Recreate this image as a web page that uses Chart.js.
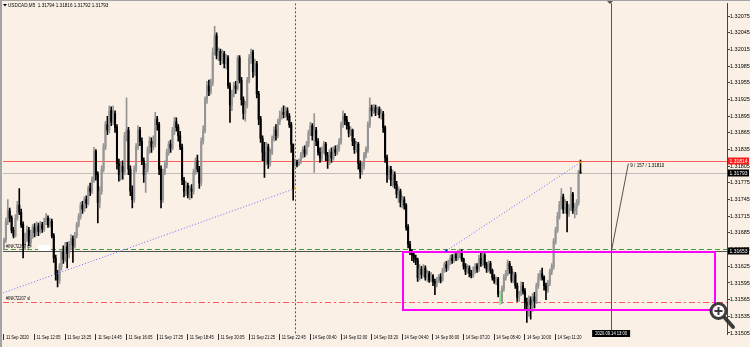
<!DOCTYPE html>
<html>
<head>
<meta charset="utf-8">
<script src="https://cdn.jsdelivr.net/npm/chart.js@4.4.0/dist/chart.umd.min.js"></script>
<style>
  html, body { margin: 0; padding: 0; background: #faf0e6; }
  canvas { display: block; }
</style>
</head>
<body>
<canvas id="chart" width="750" height="347"></canvas>
<script>
// USDCAD M5 candles, prices kept as points above 1.31000 (1 point = 0.00001)
const BASE = 1.31;
const openPts = [
  660,672,705,725,712,690,680,712,735,722, 700,662,675,690,668,680,695,685,698,688,
  700,692,705,712,700,706,680,640,610,600, 625,650,638,660,648,665,675,662,680,700,
  715,735,728,745,738,765,760,780,832,790, 740,760,800,840,880,870,905,885,900,875,
  810,790,805,795,860,870,800,760,745,800, 840,870,850,815,790,800,835,850,840,845,
  890,880,800,745,795,808,830,845,838,870, 885,875,860,840,780,760,770,755,765,760,
  795,815,800,775,850,870,925,950,940,955, 1010,1040,1005,1012,995,1008,990,1000,950,915,
  935,950,945,1000,960,925,900,915,960,1000, 1010,975,990,935,890,855,830,815,840,810,
  830,855,870,860,885,895,902,898,905,895, 880,845,810,812,808,814,825,835,828,845,
  865,878,860,870,850,830,820,835,845,825, 815,830,820,835,830,838,850,880,895,888,
  878,865,870,850,835,845,810,795,805,825, 835,880,910,905,910,902,908,898,900,875,
  820,790,800,780,790,772,755,760,740,745, 735,695,665,652,645,640,636,605,620,610,
  622,605,612,600,608,598,594,600,606,600, 618,628,622,633,640,635,645,640,648,652,
  638,625,615,622,612,608,618,625,620,640, 630,645,628,620,630,618,605,598,602,575,
  562,585,605,612,630,620,600,610,590,568, 575,590,580,560,555,565,556,570,562,590,
  605,612,605,590,582,595,615,625,670,690, 715,735,750,728,738,720,730,755,725,730,
  740,794
];
const highPts = [
  676,712,745,730,716,695,718,742,765,728, 705,685,698,695,690,700,702,705,703,706,
  704,712,720,716,712,710,684,645,618,630, 656,662,668,668,670,682,680,686,704,720,
  740,742,750,752,770,775,786,839,835,795, 768,806,846,886,895,914,912,914,905,880,
  818,812,815,866,928,875,806,770,806,846, 878,875,856,820,810,840,858,856,860,902,
  895,884,806,800,815,836,850,852,875,893, 892,880,868,845,785,778,775,770,772,800,
  820,825,805,856,878,930,958,960,962,1018, 1057,1045,1018,1016,1014,1012,1006,1004,955,942,
  956,958,1004,1004,965,930,922,965,1006,1016, 1014,998,994,940,895,860,848,848,845,836,
  860,876,880,890,905,910,914,912,910,900, 884,845,818,816,818,830,840,842,850,870,
  884,882,900,875,855,838,840,850,848,830, 835,838,840,842,843,855,885,905,900,895,
  884,876,872,855,850,848,815,812,830,840, 885,928,915,916,915,912,912,908,904,878,
  825,806,805,798,795,778,768,764,752,750, 738,700,670,655,650,645,640,628,625,628,
  626,618,616,614,610,602,605,610,612,622, 632,634,636,645,646,648,650,654,656,655,
  640,630,628,626,618,624,630,630,645,649, 650,648,632,635,634,620,610,606,605,580,
  590,610,618,636,634,625,615,614,595,580, 597,596,585,568,572,570,576,578,595,612,
  618,622,608,595,600,620,630,675,695,722, 742,765,755,745,742,736,767,758,738,745,
  798,816
];
const lowPts = [
  656,668,700,705,685,676,678,708,718,695, 640,655,670,662,660,675,678,680,680,684,
  686,688,700,695,696,676,632,600,588,594, 618,630,634,622,640,655,632,658,676,696,
  710,720,724,730,735,752,756,776,780,703, 730,755,795,835,862,865,878,880,866,800,
  778,780,782,790,850,790,752,730,740,795, 835,842,808,776,758,795,828,830,835,840,
  870,790,730,740,790,802,825,830,835,862, 868,850,835,772,750,752,748,745,748,755,
  790,795,765,770,845,865,918,932,935,950, 1005,998,995,988,990,982,980,945,884,905,
  930,936,942,955,915,890,886,910,955,990, 965,968,928,880,848,815,785,808,801,805,
  826,850,852,856,880,890,892,893,888,875, 830,744,805,804,806,810,820,822,825,840,
  860,852,794,842,825,812,815,828,815,801, 808,812,816,824,826,832,845,875,880,872,
  858,860,842,828,830,800,783,790,800,820, 830,875,895,900,896,898,892,890,866,812,
  776,782,770,768,765,748,740,732,730,728, 690,658,646,635,632,628,598,600,603,606,
  600,598,596,597,590,574,588,596,595,598, 614,616,618,628,630,632,635,636,640,634,
  620,610,612,606,604,605,612,614,616,625, 626,622,614,615,612,600,594,592,570,556,
  558,580,600,608,612,596,595,585,562,562, 572,575,545,524,535,530,544,550,558,585,
  600,600,582,565,578,590,610,620,665,686, 710,728,720,720,687,715,725,720,712,718,
  735,792
];
const closePts = [
  672,705,725,712,690,680,712,735,722,700, 662,675,690,668,680,695,685,698,688,700,
  692,705,712,700,706,680,640,610,600,625, 650,638,660,648,665,675,662,680,700,715,
  735,728,745,738,765,760,780,832,790,740, 760,800,840,880,870,905,885,900,875,810,
  790,805,795,860,870,800,760,745,800,840, 870,850,815,790,800,835,850,840,845,890,
  880,800,745,795,808,830,845,838,870,885, 875,860,840,780,760,770,755,765,760,795,
  815,800,775,850,870,925,950,940,955,1010, 1040,1005,1012,995,1008,990,1000,950,915,935,
  950,945,1000,960,925,900,915,960,1000,1010, 975,990,935,890,855,830,815,840,810,830,
  855,870,860,885,895,902,898,905,895,880, 845,765,812,808,814,825,835,828,845,865,
  878,860,870,850,830,820,835,845,825,815, 830,820,835,830,838,850,880,895,888,878,
  865,870,850,835,845,810,795,805,825,835, 880,910,905,910,902,908,898,900,875,820,
  790,800,780,790,772,755,760,740,745,735, 695,665,652,645,640,636,605,620,610,622,
  605,612,600,608,598,594,600,606,600,618, 628,622,633,640,635,645,640,648,652,638,
  625,615,622,612,608,618,625,620,640,630, 645,628,620,630,618,605,598,602,575,562,
  585,605,612,630,620,600,610,590,568,575, 590,580,560,555,565,556,570,562,590,605,
  612,605,590,582,595,615,625,670,690,715, 735,750,728,738,720,730,755,725,730,740,
  794,793
];

// one label every 16 bars (80 minutes)
const timeLabels = [
  "11 Sep 2020", "11 Sep 12:05", "11 Sep 13:25", "11 Sep 14:45", "11 Sep 16:05",
  "11 Sep 17:25", "11 Sep 18:45", "11 Sep 20:05", "11 Sep 21:25", "11 Sep 22:45",
  "14 Sep 00:40", "14 Sep 02:00", "14 Sep 03:20", "14 Sep 04:40", "14 Sep 06:00",
  "14 Sep 07:20", "14 Sep 08:40", "14 Sep 10:00", "14 Sep 11:20"
];
const LABEL_STEP = 16;
const yTicks = [
  1.32075, 1.32045, 1.32015, 1.31985, 1.31955, 1.31925, 1.31895, 1.31865, 1.31835, 1.31805,
  1.31775, 1.31745, 1.31715, 1.31685, 1.31655, 1.31625, 1.31595, 1.31565, 1.31535, 1.31505
];

// chart objects
const askPrice = 1.31814;
const bidPrice = 1.31793;
const tpPrice = 1.31655;
const slPrice = 1.31561;
const crossPrice = 1.31653;
const measurePrice = 1.31810;
const crossBar = 317;
const measureBar = 326;
const separatorBar = 152;
const zoneBox = { from: 208.1, to: 370.9, top: 1.31651, bottom: 1.31547 };
const trend1 = { bar1: -0.5, p1: 1.31577, bar2: 152, p2: 1.31765 };
const trend2 = { bar1: 231, p1: 1.31653, bar2: 301, p2: 1.31812 };
const markedBar = 259;

const TOTAL_SLOTS = 378; // bars plus the empty shift space on the right
const BG = '#faf0e6';
const BULL = '#959595';
const BEAR = '#000000';

const px = v => BASE + v / 100000;
const slots = Array.from({ length: TOTAL_SLOTS }, (_, i) => i);
const wickData = lowPts.map((l, i) => [px(l), px(highPts[i])]);
const bodyData = openPts.map((o, i) => [px(o), px(closePts[i])]);
const candleColors = openPts.map((o, i) => {
  if (i === markedBar) return '#8ee88e';
  return closePts[i] >= o ? BULL : BEAR;
});

function txt(c, s, x, y, size, color, sx, align) {
  c.save();
  c.font = size + 'px "Liberation Sans"';
  c.fillStyle = color;
  c.textBaseline = 'middle';
  c.textAlign = align || 'left';
  c.translate(x, y);
  c.scale(sx, 1);
  c.fillText(s, 0, 0);
  c.restore();
}

function seg(c, x1, y1, x2, y2, color, dash, width) {
  c.save();
  c.strokeStyle = color;
  c.lineWidth = width || 1;
  c.setLineDash(dash || []);
  c.beginPath();
  c.moveTo(x1, y1);
  c.lineTo(x2, y2);
  c.stroke();
  c.restore();
}

const cr = v => Math.round(v) + 0.5;

const mtOverlay = {
  id: 'mtOverlay',
  beforeDraw(chart) {
    const c = chart.ctx;
    c.save();
    c.fillStyle = BG;
    c.fillRect(0, 0, chart.width, chart.height);
    c.restore();
  },
  beforeDatasetsDraw(chart) {
    const { ctx: c, chartArea: a, scales: { x, y } } = chart;
    c.save();
    c.beginPath();
    c.rect(a.left, a.top, a.right - a.left, a.bottom - a.top);
    c.clip();
    // period separator
    const xs = cr(x.getPixelForValue(separatorBar));
    seg(c, xs, a.top, xs, a.bottom, '#555', [2, 2]);
    // bid / ask
    seg(c, a.left, cr(y.getPixelForValue(askPrice)), a.right, cr(y.getPixelForValue(askPrice)), '#ff5c5c');
    seg(c, a.left, cr(y.getPixelForValue(bidPrice)), a.right, cr(y.getPixelForValue(bidPrice)), '#bdbdbd');
    // crosshair horizontal + take profit
    seg(c, a.left, cr(y.getPixelForValue(crossPrice)), a.right, cr(y.getPixelForValue(crossPrice)), '#505050');
    seg(c, a.left, cr(y.getPixelForValue(tpPrice)) - 1, a.right, cr(y.getPixelForValue(tpPrice)) - 1, '#3aa33a', [5, 3]);
    // stop loss
    seg(c, a.left, cr(y.getPixelForValue(slPrice)), a.right, cr(y.getPixelForValue(slPrice)), '#ff5a5a', [6, 3, 2, 3]);
    c.restore();
  },
  afterDatasetsDraw(chart) {
    const { ctx: c, chartArea: a, scales: { x, y } } = chart;
    c.save();
    c.beginPath();
    c.rect(a.left, a.top, a.right - a.left, a.bottom - a.top);
    c.clip();
    // rectangle zone
    const rx1 = x.getPixelForValue(zoneBox.from), rx2 = x.getPixelForValue(zoneBox.to);
    const ry1 = y.getPixelForValue(zoneBox.top), ry2 = y.getPixelForValue(zoneBox.bottom);
    c.strokeStyle = '#ff00ff';
    c.lineWidth = 2;
    c.strokeRect(Math.round(rx1), Math.round(ry1), Math.round(rx2 - rx1), Math.round(ry2 - ry1));
    // trendlines
    [trend1, trend2].forEach(t => {
      seg(c, x.getPixelForValue(t.bar1), y.getPixelForValue(t.p1),
        x.getPixelForValue(t.bar2), y.getPixelForValue(t.p2), '#6a6aff', [1, 2]);
    });
    c.fillStyle = '#0000ff';
    c.fillRect(x.getPixelForValue(trend2.bar1) - 1, y.getPixelForValue(trend2.p1) - 1, 2, 2);
    c.fillStyle = '#ffa500';
    c.fillRect(x.getPixelForValue(trend1.bar2) - 1, y.getPixelForValue(trend1.p2) - 1, 2, 2);
    c.fillRect(x.getPixelForValue(trend2.bar2) - 1, y.getPixelForValue(trend2.p2) - 1, 2, 2);
    c.restore();

    // crosshair and measure line
    const xc = cr(x.getPixelForValue(crossBar));
    seg(c, xc, a.top, xc, a.bottom - 4, '#555');
    const ym = y.getPixelForValue(measurePrice);
    const xm = x.getPixelForValue(measureBar);
    seg(c, xc, y.getPixelForValue(crossPrice), xm, ym, '#555');
    txt(c, '9 / 157 / ' + measurePrice.toFixed(5), xm + 2, ym + 1.5, 5.5, '#000', 0.82);

    // object labels on the left
    c.fillStyle = '#ffffff';
    c.fillRect(38, 245, 12, 6);
    txt(c, '#INK72207 tp', 6, y.getPixelForValue(tpPrice) - 3, 5, '#000', 0.8);
    txt(c, '#INK72207 sl', 6, y.getPixelForValue(slPrice) - 3.5, 5, '#000', 0.8);
  },
  afterDraw(chart) {
    const { ctx: c, chartArea: a, scales: { x, y } } = chart;
    // time labels next to the library's tick marks
    x.ticks.forEach(t => {
      const p = x.getPixelForValue(t.value);
      txt(c, timeLabels[t.value / LABEL_STEP], p + 2, a.bottom + 3.5, 5.5, '#000', 0.74);
    });
    // price boxes on the scale
    const box = (price, bg, label) => {
      const py = Math.round(y.getPixelForValue(price));
      c.fillStyle = bg;
      c.fillRect(a.right + 1, py - 3.5, 21, 7);
      txt(c, label, a.right + 2.5, py, 5.5, '#fff', 0.9);
    };
    box(askPrice, '#ff1a1a', askPrice.toFixed(5));
    box(bidPrice, '#000', bidPrice.toFixed(5));
    box(crossPrice, '#000', crossPrice.toFixed(5));
    // crosshair time box
    const xc = x.getPixelForValue(crossBar);
    c.fillStyle = '#000';
    c.fillRect(xc - 19, a.bottom - 4, 38, 7);
    txt(c, '2020.09.14 13:00', xc, a.bottom - 0.5, 5.5, '#fff', 0.74, 'center');

    // header
    c.fillStyle = '#000';
    c.beginPath();
    c.moveTo(3, 4); c.lineTo(7, 4); c.lineTo(5, 6.5); c.closePath(); c.fill();
    txt(c, 'USDCAD,M5  1.31794 1.31816 1.31792 1.31793', 8, 5.5, 5.5, '#000', 0.84);

    // window frame
    c.fillStyle = '#a4a4a4';
    c.fillRect(0, 0, 2, chart.height);
    c.fillRect(0, 0, chart.width, 1);
    c.fillStyle = '#555';
    c.beginPath();
    c.moveTo(607, 1); c.lineTo(613, 1); c.lineTo(610, 4); c.closePath(); c.fill();

    // zoom icon overlay
    c.save();
    c.fillStyle = 'rgba(255,255,255,0.85)';
    c.beginPath(); c.arc(718.5, 311, 7.5, 0, Math.PI * 2); c.fill();
    c.strokeStyle = 'rgba(45,45,45,0.92)';
    c.lineWidth = 3;
    c.beginPath(); c.arc(718.5, 311, 7.5, 0, Math.PI * 2); c.stroke();
    c.lineCap = 'round';
    seg(c, 725, 318, 733, 327, 'rgba(45,45,45,0.92)', [], 4);
    c.fillStyle = 'rgba(45,45,45,0.92)';
    c.fillRect(714.5, 310, 8, 2);
    c.fillRect(717.5, 307, 2, 8);
    c.restore();
  }
};

new Chart(document.getElementById('chart'), {
  type: 'bar',
  data: {
    labels: slots,
    datasets: [
      { label: 'wick', data: wickData, backgroundColor: candleColors, barThickness: 1, grouped: false, order: 2 },
      { label: 'body', data: bodyData, backgroundColor: candleColors, barThickness: 1.4, minBarLength: 1, grouped: false, order: 1 }
    ]
  },
  options: {
    responsive: false,
    animation: false,
    devicePixelRatio: 1,
    layout: { padding: { left: 3, top: 2, right: 0, bottom: 0 } },
    plugins: { legend: { display: false }, tooltip: { enabled: false } },
    scales: {
      x: {
        type: 'category',
        offset: true,
        grid: { display: true, drawOnChartArea: false, drawTicks: true, tickLength: 6, offset: false, color: '#333' },
        border: { display: false },
        ticks: { display: false, autoSkip: false, maxRotation: 0, minRotation: 0 },
        afterBuildTicks: s => {
          s.ticks = s.ticks.filter(t => t.value % LABEL_STEP === 0 && t.value / LABEL_STEP < timeLabels.length);
        },
        afterFit: s => { s.height = 13; }
      },
      y: {
        position: 'right',
        min: 1.315032,
        max: 1.320983,
        grid: { drawOnChartArea: false, drawTicks: true, tickLength: 3, color: '#444' },
        border: { display: true, color: '#444' },
        ticks: {
          padding: 0,
          color: '#000',
          font: { family: 'Liberation Sans', size: 5.5 },
          callback: v => v.toFixed(5)
        },
        afterBuildTicks: s => { s.ticks = yTicks.map(value => ({ value })); },
        afterFit: s => { s.width = 23; }
      }
    }
  },
  plugins: [mtOverlay]
});
</script>
</body>
</html>
